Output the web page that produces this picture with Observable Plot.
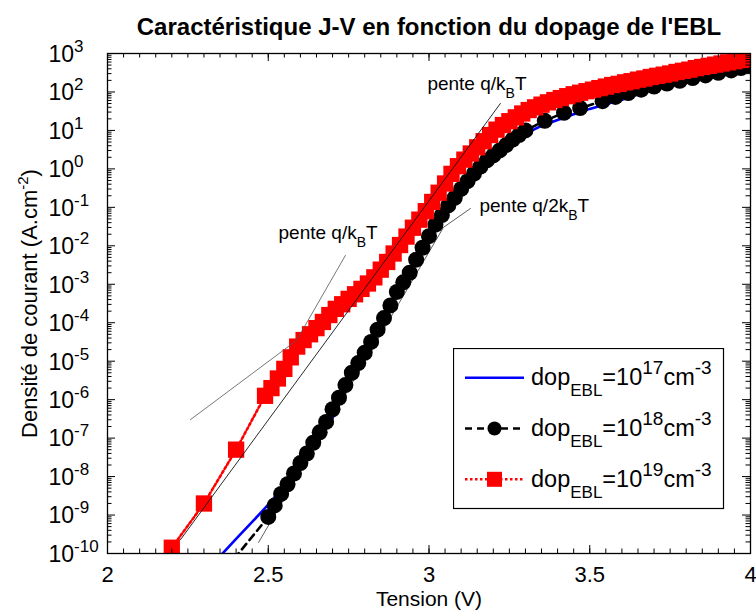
<!DOCTYPE html>
<html><head><meta charset="utf-8">
<script src="https://cdn.jsdelivr.net/npm/d3@7"></script>
<script src="https://cdn.jsdelivr.net/npm/@observablehq/plot@0.6"></script>
<style>
body{margin:0;background:#fff}
#wrap{position:relative;width:756px;height:612px;font-family:"Liberation Sans",Arial,sans-serif}
#legend{position:absolute;left:453px;top:348px}
</style>
</head><body><div id="wrap"></div>
<script>
// ---- data (V in volts, log10 of J in A.cm^-2) ----
const blueV    = [2.30,2.35,2.40,2.45,2.50,2.55,2.60,2.65,2.70,2.75,2.80,2.85,2.90,2.95,3.00,3.05,3.10,3.15,3.20,3.25,3.30,3.35,3.40,3.45,3.50,3.55,3.60,3.70,3.80,3.90,4.00];
const blueLogJ = [-10.52,-10.07,-9.62,-9.18,-8.73,-8.25,-7.72,-7.15,-6.48,-5.62,-4.85,-4.05,-3.25,-2.50,-1.75,-1.10,-0.58,-0.13,0.25,0.60,0.92,1.12,1.27,1.42,1.56,1.68,1.80,2.07,2.30,2.49,2.67];

const blackV    = [2.30,2.50,2.52,2.54,2.56,2.58,2.60,2.62,2.64,2.66,2.68,2.70,2.72,2.74,2.76,2.78,2.80,2.82,2.84,2.86,2.88,2.90,2.92,2.94,2.96,2.98,3.00,3.02,3.04,3.06,3.08,3.10,3.12,3.14,3.16,3.18,3.20,3.22,3.24,3.26,3.28,3.30,3.36,3.42,3.47,3.54,3.58,3.62,3.66,3.70,3.74,3.78,3.82,3.86,3.90,3.94,3.97,4.00];
const blackLogJ = [-11.1,-9.05,-8.75,-8.45,-8.20,-7.92,-7.65,-7.40,-7.12,-6.85,-6.58,-6.25,-5.95,-5.62,-5.30,-5.05,-4.78,-4.50,-4.18,-3.88,-3.55,-3.20,-2.95,-2.70,-2.36,-2.05,-1.75,-1.45,-1.20,-0.95,-0.75,-0.52,-0.32,-0.12,0.06,0.22,0.35,0.48,0.62,0.76,0.88,1.00,1.25,1.46,1.58,1.76,1.87,1.97,2.06,2.14,2.22,2.29,2.36,2.43,2.50,2.56,2.62,2.68];

const redV    = [2.20,2.30,2.40,2.49,2.51,2.53,2.55,2.57,2.59,2.61,2.63,2.65,2.67,2.69,2.71,2.73,2.75,2.77,2.79,2.81,2.83,2.85,2.87,2.89,2.91,2.93,2.95,2.97,2.99,3.01,3.03,3.05,3.07,3.09,3.11,3.13,3.15,3.17,3.19,3.21,3.23,3.25,3.27,3.29,3.31,3.33,3.35,3.37,3.39,3.41,3.43,3.45,3.47,3.49,3.51,3.53,3.55,3.57,3.59,3.61,3.63,3.65,3.67,3.69,3.71,3.73,3.75,3.77,3.79,3.81,3.83,3.85,3.87,3.89,3.91,3.93,3.95,3.97,3.99];
const redLogJ = [-9.85,-8.70,-7.30,-5.90,-5.70,-5.45,-5.20,-4.90,-4.62,-4.45,-4.30,-4.14,-3.98,-3.80,-3.64,-3.52,-3.38,-3.26,-3.12,-2.98,-2.82,-2.62,-2.42,-2.20,-1.98,-1.76,-1.53,-1.32,-1.10,-0.86,-0.62,-0.38,-0.13,0.07,0.24,0.40,0.56,0.72,0.88,1.02,1.14,1.24,1.34,1.44,1.53,1.60,1.67,1.73,1.79,1.84,1.89,1.94,1.98,2.02,2.06,2.10,2.14,2.18,2.21,2.25,2.28,2.32,2.35,2.39,2.42,2.45,2.48,2.52,2.55,2.58,2.62,2.65,2.68,2.71,2.74,2.77,2.80,2.83,2.86];

// slope guide lines
const slopeAV = [2.227, 3.222],        slopeALogJ = [-9.64, 1.70];
const slopeBV = [2.258, 2.588, 2.740], slopeBLogJ = [-6.52, -4.46, -2.25];
const slopeDV = [2.470, 3.045, 3.129], slopeDLogJ = [-9.71, -1.52, -1.03];

const noteLabels = ["pente q/k_{B}T", "pente q/k_{B}T", "pente q/2k_{B}T"];
const noteV      = [2.995, 2.532, 3.157];
const noteLogJ   = [2.04, -1.81, -1.13];

const xTickLabels = [2, 2.5, 3, 3.5, 4];
const yExponents  = [-10,-9,-8,-7,-6,-5,-4,-3,-2,-1,0,1,2,3];

const titleText = "Caractéristique J-V en fonction du dopage de l'EBL";
const xLabel = "Tension (V)";
const yLabel = "Densité de courant (A.cm^{-2})";

// ---- build tables ----
const pts = (V, L) => V.map((v, i) => ({V: v, J: Math.pow(10, L[i])}));
const blue = pts(blueV, blueLogJ), black = pts(blackV, blackLogJ), red = pts(redV, redLogJ);
const sA = pts(slopeAV, slopeALogJ), sB = pts(slopeBV, slopeBLogJ), sD = pts(slopeDV, slopeDLogJ);
const notes = noteLabels.map((t, i) => ({t, V: noteV[i], J: Math.pow(10, noteLogJ[i])}));

const xMinor = d3.range(2, 4.0001, 0.05);
const yMajor = yExponents.map(e => Math.pow(10, e));
const yMinor = [];
for (const e of yExponents.slice(0, -1)) for (let k = 2; k <= 9; k++) yMinor.push(k * Math.pow(10, e));

const W = 756, H = 612, mt = 53, mb = 59, ml = 107, mr = 6;
const fw = W - ml - mr, fh = H - mt - mb;
const minT = 4.5, majT = 8;

const chart = Plot.plot({
  width: W, height: H,
  marginTop: mt, marginBottom: mb, marginLeft: ml, marginRight: mr,
  style: {fontFamily: '"Liberation Sans", Arial, sans-serif', background: "white", color: "black"},
  x: {domain: [2, 4], axis: null},
  y: {type: "log", domain: [1e-10, 1e3], axis: null},
  marks: [
    Plot.line(blue, {x: "V", y: "J", stroke: "#0000ff", strokeWidth: 2.6, clip: true}),
    Plot.line(sD, {x: "V", y: "J", stroke: "#333", strokeWidth: 0.8, clip: true}),
    Plot.line(black, {x: "V", y: "J", stroke: "black", strokeWidth: 2.6, strokeDasharray: "7,5", clip: true}),
    Plot.dot(black, {x: "V", y: "J", r: 8, fill: "black", stroke: "none", clip: true}),
    Plot.line(red, {x: "V", y: "J", stroke: "#ff0000", strokeWidth: 2.6, strokeDasharray: "2.5,2.5", clip: true}),
    Plot.dot(red, {x: "V", y: "J", symbol: "square", r: 9.2, fill: "#ff0000", stroke: "none", clip: true}),
    Plot.line(sA, {x: "V", y: "J", stroke: "#111", strokeWidth: 0.9, clip: true}),
    Plot.line(sB, {x: "V", y: "J", stroke: "#555", strokeWidth: 0.8, clip: true}),
    Plot.text(notes, {x: "V", y: "J", text: "t", textAnchor: "start", lineAnchor: "bottom", fontSize: 19}),
    // ticks (inward, all four sides)
    Plot.ruleX(xMinor, {insetTop: fh - minT, stroke: "black", strokeWidth: 1}),
    Plot.ruleX(xMinor, {insetBottom: fh - minT, stroke: "black", strokeWidth: 1}),
    Plot.ruleX(xTickLabels, {insetTop: fh - majT, stroke: "black", strokeWidth: 1}),
    Plot.ruleX(xTickLabels, {insetBottom: fh - majT, stroke: "black", strokeWidth: 1}),
    Plot.ruleY(yMinor, {insetRight: fw - minT, stroke: "black", strokeWidth: 1}),
    Plot.ruleY(yMinor, {insetLeft: fw - minT, stroke: "black", strokeWidth: 1}),
    Plot.ruleY(yMajor, {insetRight: fw - majT, stroke: "black", strokeWidth: 1}),
    Plot.ruleY(yMajor, {insetLeft: fw - majT, stroke: "black", strokeWidth: 1}),
    Plot.frame({stroke: "black", strokeWidth: 1.3}),
    // tick labels
    Plot.text(xTickLabels, {x: d => d, text: d => String(d), frameAnchor: "bottom", lineAnchor: "top", dy: 13, fontSize: 22}),
    Plot.text(yExponents, {y: e => Math.pow(10, e), text: e => "10^{" + e + "}", frameAnchor: "left", textAnchor: "start", lineAnchor: "middle", dx: -59, dy: 1, fontSize: 23}),
    // titles
    Plot.text([titleText], {frameAnchor: "top", textAnchor: "middle", lineAnchor: "bottom", dy: -19, fontSize: 24, fontWeight: "bold"}),
    Plot.text([xLabel], {frameAnchor: "bottom", textAnchor: "middle", lineAnchor: "middle", dy: 46, fontSize: 21}),
    Plot.text([yLabel], {frameAnchor: "left", textAnchor: "middle", rotate: -90, lineAnchor: "middle", dx: -78, fontSize: 22})
  ]
});

// rich text: ^{sup} and _{sub} -> tspans
function rich(el, size, supShift, subShift) {
  const s = el.textContent;
  const re = /([\^_])\{([^}]*)\}/g;
  const parts = []; let last = 0, m;
  while ((m = re.exec(s))) {
    if (m.index > last) parts.push({t: s.slice(last, m.index), k: 0});
    parts.push({t: m[2], k: m[1] === "^" ? -supShift : subShift, small: true});
    last = re.lastIndex;
  }
  if (last < s.length) parts.push({t: s.slice(last), k: 0});
  el.textContent = "";
  let cur = 0;
  for (const p of parts) {
    const ts = d3.select(el).append("tspan").text(p.t);
    if (p.k - cur) ts.attr("dy", p.k - cur);
    if (p.small) ts.attr("font-size", size);
    cur = p.k;
  }
}
d3.select(chart).selectAll("text").each(function () {
  const s = this.textContent;
  if (!/[\^_]\{/.test(s)) return;
  if (s.startsWith("10^")) rich(this, 17, 10, 0);
  else if (s.startsWith("Densit")) rich(this, 15, 9, 0);
  else rich(this, 14, 0, 8);
});

const wrap = document.getElementById("wrap");
wrap.appendChild(chart);

// legend
const legendRows = [
  {exp: "17", stroke: "#0000ff", dash: null, marker: null},
  {exp: "18", stroke: "black", dash: "7,5", marker: "circle"},
  {exp: "19", stroke: "#ff0000", dash: "2.5,2.5", marker: "square"}
];
const lg = d3.select(wrap).append("svg").attr("id", "legend").attr("width", 272).attr("height", 162)
  .style("font-family", '"Liberation Sans", Arial, sans-serif');
lg.append("rect").attr("x", 0.5).attr("y", 0.5).attr("width", 270).attr("height", 160).attr("fill", "white").attr("stroke", "black").attr("stroke-width", 1.2);
legendRows.forEach((r, i) => {
  const cy = 29.7 + i * 50.8;
  lg.append("line").attr("x1", 12).attr("x2", 71).attr("y1", cy).attr("y2", cy)
    .attr("stroke", r.stroke).attr("stroke-width", 2.6).attr("stroke-dasharray", r.dash);
  if (r.marker === "circle") lg.append("circle").attr("cx", 41.5).attr("cy", cy).attr("r", 7).attr("fill", "black");
  if (r.marker === "square") lg.append("rect").attr("x", 34).attr("y", cy - 7.5).attr("width", 15).attr("height", 15).attr("fill", "#ff0000");
  const t = lg.append("text").attr("x", 78).attr("y", cy + 7.5).attr("font-size", 23.5).attr("fill", "black");
  t.append("tspan").text("dop");
  t.append("tspan").attr("dy", 11).attr("font-size", 17).text("EBL");
  t.append("tspan").attr("dy", -11).text("=10");
  t.append("tspan").attr("dy", -11).attr("font-size", 19).text(r.exp);
  t.append("tspan").attr("dy", 11).text("cm");
  t.append("tspan").attr("dy", -11).attr("font-size", 19).text("-3");
});
</script>
</body></html>
